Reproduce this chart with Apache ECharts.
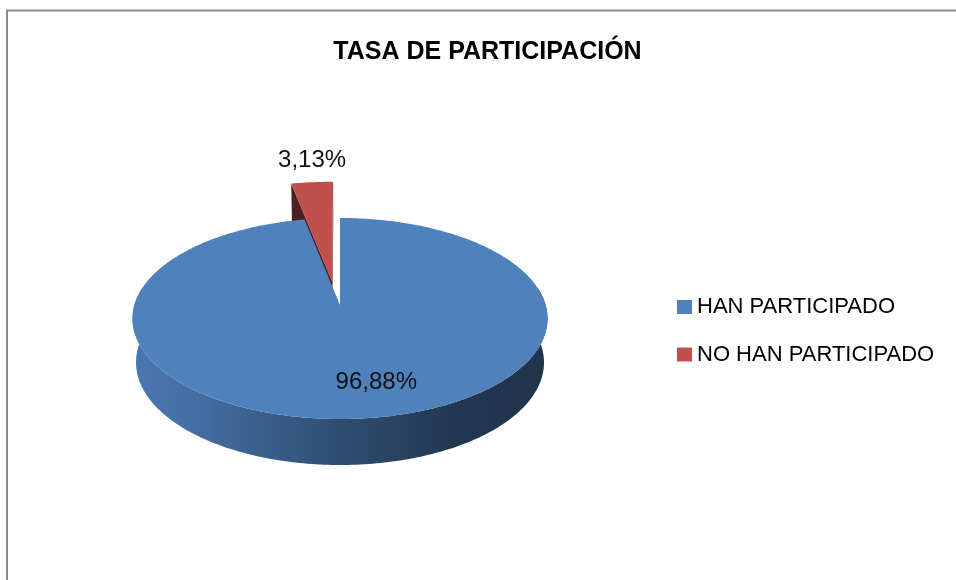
<!DOCTYPE html>
<html><head><meta charset="utf-8">
<script src="https://cdn.jsdelivr.net/npm/echarts@6/dist/echarts.min.js"></script>
<style>html,body{margin:0;padding:0;background:#fff}#c{width:956px;height:580px}</style>
</head><body><div id="c"></div>
<script>
// ---- data ----
const chartTitle = 'TASA DE PARTICIPACIÓN';
const categories = ['HAN PARTICIPADO', 'NO HAN PARTICIPADO'];
const values = [96.88, 3.13];
const colors = ['#4f81bd', '#c0504d'];

// ---- 3D pie geometry (layout, not data) ----
const G = {cx: 340, cy: 318.5, rx: 207.5, ry: 100.5, k: -0.134, depth: 44, brx: 204, bry: 102.5};
const sliceFx = [
  {eu: 0, ev: 0, rs: 1, label: {type: 'inside', r: 0.73, dAng: -7}},
  {eu: -0.04, ev: -0.25, rs: 1.25, label: {type: 'outside', dy: -22}}
];
const FONT = '"Liberation Sans", Arial, sans-serif';

function proj(u, v, lvl) {
  const k = G.k, s = Math.sqrt(1 - k * k), d = 1 + v * k;
  const up = u * s / d, vp = (v + k) / d;
  return lvl ? [G.cx + G.brx * up, G.cy + G.depth + G.bry * vp] : [G.cx + G.rx * up, G.cy + G.ry * vp];
}
function pt(fx, r, deg, lvl) {
  const a = deg * Math.PI / 180;
  return proj(fx.eu + r * fx.rs * Math.sin(a), fx.ev - r * fx.rs * Math.cos(a), lvl);
}
function area(p) {
  let s = 0;
  for (let i = 0; i < p.length; i++) { const a = p[i], b = p[(i + 1) % p.length]; s += a[0] * b[1] - b[0] * a[1]; }
  return s;
}
function scale(hex, f) {
  const n = parseInt(hex.slice(1), 16);
  const c = [(n >> 16) & 255, (n >> 8) & 255, n & 255].map(x => Math.round(x * f));
  return 'rgb(' + c.join(',') + ')';
}
function fmt(v) { return v.toFixed(2).replace('.', ',') + '%'; }

const total = values.reduce((a, b) => a + b, 0);

function renderItem(params, api) {
  const i = params.seriesIndex;
  const val = api.value(0);
  let start = 0;
  for (let j = 0; j < i; j++) start += values[j];
  const a0 = start / total * 360, a1 = (start + val) / total * 360;
  const fx = sliceFx[i];
  const col = colors[i];
  const children = [];
  const step = 1;
  // outer side wall (near half only)
  const s0 = Math.max(a0, 80), s1 = Math.min(a1, 280);
  if (s1 > s0) {
    const poly = [];
    for (let a = s0; a <= s1; a += step) poly.push(pt(fx, 1, a, 0));
    poly.push(pt(fx, 1, s1, 0));
    poly.push(pt(fx, 1, s1, 1));
    for (let a = s1; a >= s0; a -= step) poly.push(pt(fx, 1, a, 1));
    poly.push(pt(fx, 1, s0, 1));
    children.push({type: 'polygon', z2: 1, shape: {points: poly}, style: {
      fill: new echarts.graphic.LinearGradient(0, 0, 1, 0, [
        {offset: 0, color: scale(col, 0.93)}, {offset: 0.15, color: scale(col, 0.86)},
        {offset: 0.5, color: scale(col, 0.6)}, {offset: 0.8, color: scale(col, 0.42)},
        {offset: 1, color: scale(col, 0.4)}])}});
  }
  // radial cut faces with back-face culling
  const apexT = pt(fx, 0, 0, 0), apexB = pt(fx, 0, 0, 1);
  const f0 = [apexT, pt(fx, 1, a0, 0), pt(fx, 1, a0, 1), apexB];
  const f1 = [apexT, pt(fx, 1, a1, 0), pt(fx, 1, a1, 1), apexB];
  if (area(f0) < -1) children.push({type: 'polygon', z2: 2, shape: {points: f0}, style: {fill: scale(col, 0.4)}});
  if (area(f1) > 1) children.push({type: 'polygon', z2: 2, shape: {points: f1}, style: {fill: scale(col, 0.55)}});
  // top face
  const top = [apexT];
  for (let a = a0; a < a1; a += step) top.push(pt(fx, 1, a, 0));
  top.push(pt(fx, 1, a1, 0));
  children.push({type: 'polygon', z2: 3, shape: {points: top}, style: {fill: col}});
  // label
  const mid = (a0 + a1) / 2;
  let lp;
  if (fx.label.type === 'inside') {
    lp = pt(fx, fx.label.r, mid + fx.label.dAng, 0);
  } else {
    const p = pt(fx, 1, mid, 0);
    lp = [p[0], p[1] + fx.label.dy];
  }
  children.push({type: 'text', z2: 10, style: {text: fmt(val), x: lp[0], y: lp[1], fill: '#111',
    fontSize: 24, fontFamily: FONT, align: 'center', verticalAlign: 'middle'}});
  return {type: 'group', children: children};
}

const chart = echarts.init(document.getElementById('c'), null, {renderer: 'canvas'});
chart.setOption({
  animation: false,
  backgroundColor: '#fff',
  title: {text: chartTitle, left: 487.5, top: 37.5, textAlign: 'center', padding: 0,
    textStyle: {fontFamily: FONT, fontSize: 25, fontWeight: 'bold', color: '#000', lineHeight: 30}},
  legend: {orient: 'vertical', left: 677, top: 296, padding: 0, itemWidth: 15, itemHeight: 14, itemGap: 25.5,
    icon: 'rect', selectedMode: false, data: categories,
    textStyle: {fontFamily: FONT, fontSize: 22, color: '#000', lineHeight: 22}},
  graphic: [{type: 'rect', silent: true, shape: {x: 7, y: 10.5, width: 1200, height: 1000},
    style: {fill: 'none', stroke: '#888', lineWidth: 2}}],
  series: categories.map((name, i) => ({
    type: 'custom', name: name, coordinateSystem: 'none', z: i === 0 ? 3 : 2,
    itemStyle: {color: colors[i]}, data: [values[i]], renderItem: renderItem
  }))
});
</script></body></html>
